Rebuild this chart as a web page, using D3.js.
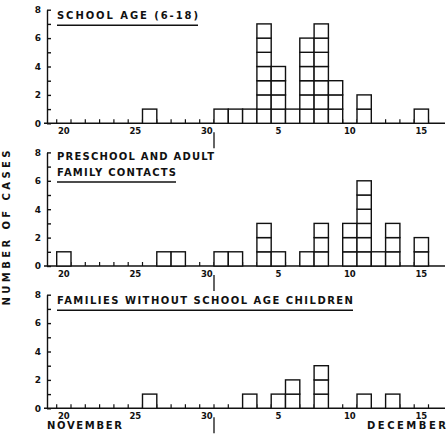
<!DOCTYPE html>
<html>
<head>
<meta charset="utf-8">
<script src="https://cdnjs.cloudflare.com/ajax/libs/d3/7.8.5/d3.min.js"></script>
<style>
body { margin: 0; background: #fff; }
svg { display: block; }
text { font-family: "DejaVu Sans", sans-serif; font-weight: bold; fill: #111; }
</style>
</head>
<body>
<script>
// days on the axis, Nov 19 .. Dec 16
var days = ["Nov 19","Nov 20","Nov 21","Nov 22","Nov 23","Nov 24","Nov 25","Nov 26","Nov 27",
	"Nov 28","Nov 29","Nov 30","Dec 1","Dec 2","Dec 3","Dec 4","Dec 5","Dec 6","Dec 7","Dec 8",
	"Dec 9","Dec 10","Dec 11","Dec 12","Dec 13","Dec 14","Dec 15","Dec 16"];

var labelDays = ["Nov 20","Nov 25","Nov 30","Dec 5","Dec 10","Dec 15"];
var yTicks = [0,1,2,3,4,5,6,7,8];
var markerDay = "Dec 1";

// cases per day, [day, count]
var schoolAge = [["Nov 26",1],["Dec 1",1],["Dec 2",1],["Dec 3",1],["Dec 4",7],["Dec 5",4],
	["Dec 6",1],["Dec 7",6],["Dec 8",7],["Dec 9",3],["Dec 11",2],["Dec 15",1]];
var preschoolAdult = [["Nov 20",1],["Nov 27",1],["Nov 28",1],["Dec 1",1],["Dec 2",1],["Dec 4",3],
	["Dec 5",1],["Dec 7",1],["Dec 8",3],["Dec 10",3],["Dec 11",6],["Dec 12",1],["Dec 13",3],["Dec 15",2]];
var noSchoolChildren = [["Nov 26",1],["Dec 3",1],["Dec 5",1],["Dec 6",2],["Dec 8",3],["Dec 11",1],["Dec 13",1]];

var titles = [["SCHOOL AGE (6-18)"], ["PRESCHOOL AND ADULT","FAMILY CONTACTS"], ["FAMILIES WITHOUT SCHOOL AGE CHILDREN"]];
var series = [schoolAge, preschoolAdult, noSchoolChildren];

var width = 447, height = 434;
var svg = d3.select("body").append("svg")
	.attr("width", width)
	.attr("height", height);

var x = d3.scaleLinear().domain([0, days.length]).range([42.4, 442.8]);
var unit = 14.2,
	axisX = 47,
	ink = "#111";
var panelBase = [123.3, 266, 408.3];
var titleLen = [[141], [157, 119], [296]];

series.forEach(function(counts, k) {
	var base = panelBase[k];
	var y = d3.scaleLinear().domain([0, 8]).range([base, base - 8 * unit]);
	var g = svg.append("g");

	// y axis, ticks pointing inward
	var ya = g.append("g")
		.attr("transform", "translate(" + axisX + ",0)")
		.call(d3.axisLeft(y).tickValues(yTicks).tickSize(-4).tickSizeOuter(0).tickPadding(6)
			.tickFormat(function(d) { return d % 2 ? "" : d; }));
	ya.selectAll("path, line").attr("stroke", ink).attr("stroke-width", 1.4);
	ya.selectAll("text").attr("font-size", 9).attr("font-family", null).attr("fill", ink);

	// x axis line and day boundary ticks
	g.append("line")
		.attr("x1", axisX - 3).attr("x2", 445)
		.attr("y1", base).attr("y2", base)
		.attr("stroke", ink).attr("stroke-width", 1.4);
	g.selectAll("line.dtick")
		.data(d3.range(1, days.length))
		.join("line")
		.attr("class", "dtick")
		.attr("x1", function(d) { return x(d); })
		.attr("x2", function(d) { return x(d); })
		.attr("y1", base).attr("y2", base - 4)
		.attr("stroke", ink).attr("stroke-width", 1.2);

	g.selectAll("text.dlab")
		.data(labelDays)
		.join("text")
		.attr("class", "dlab")
		.attr("x", function(d) { return x(days.indexOf(d) + 0.5); })
		.attr("y", base + 10.5)
		.attr("text-anchor", "middle")
		.attr("font-size", 8.5)
		.text(function(d) { return d.split(" ")[1]; });

	// marker under the end of November
	g.append("line")
		.attr("x1", x(days.indexOf(markerDay))).attr("x2", x(days.indexOf(markerDay)))
		.attr("y1", base + 9).attr("y2", base + 25)
		.attr("stroke", ink).attr("stroke-width", 1.3);

	// one square per case
	var cells = [];
	counts.forEach(function(c) {
		d3.range(c[1]).forEach(function(j) { cells.push({i: days.indexOf(c[0]), j: j}); });
	});
	g.selectAll("rect.cell")
		.data(cells)
		.join("rect")
		.attr("class", "cell")
		.attr("x", function(d) { return x(d.i); })
		.attr("y", function(d) { return y(d.j + 1); })
		.attr("width", function(d) { return x(d.i + 1) - x(d.i); })
		.attr("height", function(d) { return y(d.j) - y(d.j + 1); })
		.attr("fill", "white")
		.attr("stroke", ink)
		.attr("stroke-width", 1.4);

	// panel title, underlined
	var lines = titles[k];
	var top = base - (lines.length > 1 ? 106 : 104);
	lines.forEach(function(t, li) {
		g.append("text")
			.attr("x", 57)
			.attr("y", top + li * 16)
			.attr("font-size", 10)
			.attr("textLength", titleLen[k][li])
			.attr("lengthAdjust", "spacing")
			.text(t);
	});
	var lastLen = titleLen[k][lines.length - 1];
	g.append("line")
		.attr("x1", 57).attr("x2", 57 + lastLen)
		.attr("y1", top + (lines.length - 1) * 16 + 6)
		.attr("y2", top + (lines.length - 1) * 16 + 6)
		.attr("stroke", ink).attr("stroke-width", 1.5);
});

svg.append("text")
	.attr("x", 47).attr("y", 429)
	.attr("font-size", 10)
	.attr("textLength", 75)
	.attr("lengthAdjust", "spacing")
	.text("NOVEMBER");
svg.append("text")
	.attr("x", 367).attr("y", 429)
	.attr("font-size", 10)
	.attr("textLength", 79)
	.attr("lengthAdjust", "spacing")
	.text("DECEMBER");

svg.append("text")
	.attr("transform", "translate(10,228) rotate(-90)")
	.attr("text-anchor", "middle")
	.attr("font-size", 10)
	.attr("textLength", 155)
	.attr("lengthAdjust", "spacing")
	.text("NUMBER OF CASES");
</script>
</body>
</html>
